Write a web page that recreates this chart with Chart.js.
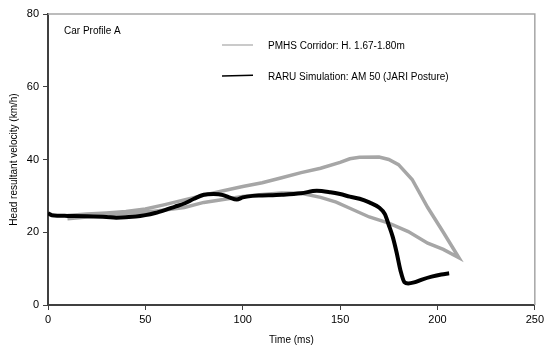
<!DOCTYPE html>
<html>
<head>
<meta charset="utf-8">
<script src="https://cdn.jsdelivr.net/npm/chart.js@4"></script>
<style>
  body { margin: 0; background: #fff; }
</style>
</head>
<body>
<canvas id="chart" width="547" height="351"></canvas>
<script>
// PMHS corridor: upper edge left to right, then lower edge back to the left
const corridorUpperTime = [10, 20, 30, 40, 50, 60, 70, 80, 90, 100, 110, 120, 130, 140, 150, 155, 160, 170, 175, 180, 187, 195, 203, 211];
const corridorUpperSpeed = [24.6, 25.0, 25.3, 25.7, 26.4, 27.6, 28.9, 30.2, 31.4, 32.6, 33.6, 35.0, 36.4, 37.6, 39.2, 40.2, 40.6, 40.7, 40.0, 38.6, 34.5, 26.8, 20.0, 13.0];
const corridorLowerTime = [211, 203, 195, 185, 175, 165, 155, 148, 140, 130, 120, 110, 100, 90, 80, 70, 60, 50, 40, 30, 20, 10];
const corridorLowerSpeed = [13.0, 15.3, 17.0, 20.2, 22.5, 24.2, 26.6, 28.3, 29.6, 30.7, 30.8, 30.4, 29.8, 29.0, 28.2, 26.8, 26.1, 25.5, 25.2, 24.8, 24.2, 23.7];

// RARU simulation
const simTime = [0, 2, 10, 20, 30, 35, 45, 50, 55, 60, 65, 70, 75, 80, 85, 90, 93, 97, 100, 105, 110, 120, 130, 138, 145, 150, 155, 160, 165, 170, 173, 175, 177, 179, 181, 183, 185, 188, 192, 197, 202, 206];
const simSpeed = [25.2, 24.7, 24.5, 24.4, 24.2, 24.0, 24.3, 24.7, 25.3, 26.1, 27.0, 27.9, 29.2, 30.3, 30.5, 30.2, 29.6, 29.0, 29.6, 30.0, 30.1, 30.3, 30.7, 31.4, 31.0, 30.5, 29.8, 29.2, 28.2, 26.8, 25.0, 22.0, 18.8, 14.5, 9.5, 6.3, 5.9, 6.2, 7.0, 7.8, 8.4, 8.7];

const seriesLabels = ['PMHS Corridor: H. 1.67-1.80m', 'RARU Simulation: AM 50 (JARI Posture)'];
const annotationText = 'Car Profile A';

const FONT = 'Liberation Sans, Arial, sans-serif';

const toPoints = (xs, ys) => xs.map((x, i) => ({ x: x, y: ys[i] }));

const corridorPoints = toPoints(corridorUpperTime, corridorUpperSpeed)
  .concat(toPoints(corridorLowerTime, corridorLowerSpeed));

// frame, in-plot legend and label
const extras = {
  id: 'extras',
  afterDatasetsDraw(chart) {
    const { ctx, chartArea } = chart;
    ctx.save();
    ctx.strokeStyle = '#a6a6a6';
    ctx.lineWidth = 1.5;
    ctx.beginPath();
    ctx.moveTo(chartArea.left, chartArea.top);
    ctx.lineTo(chartArea.right, chartArea.top);
    ctx.lineTo(chartArea.right, chartArea.bottom);
    ctx.stroke();

    ctx.font = '10px ' + FONT;
    ctx.fillStyle = '#000';
    ctx.textBaseline = 'middle';
    ctx.fillText(annotationText, 64, 31);

    const rows = [
      { y: 45, width: 1.2 },
      { y: 76, width: 1.6 },
    ];
    chart.data.datasets.forEach((ds, i) => {
      ctx.strokeStyle = ds.borderColor;
      ctx.lineWidth = rows[i].width;
      ctx.beginPath();
      ctx.moveTo(222, rows[i].y);
      ctx.lineTo(253, rows[i].y - (i === 1 ? 0.8 : 0));
      ctx.stroke();
      ctx.fillStyle = '#000';
      ctx.fillText(ds.label, 268, rows[i].y + 1);
    });
    ctx.restore();
  }
};

const axisColor = '#404040';

new Chart(document.getElementById('chart'), {
  type: 'line',
  data: {
    datasets: [
      {
        label: seriesLabels[0],
        data: corridorPoints,
        borderColor: '#a6a6a6',
        borderWidth: 3.5,
        pointRadius: 0,
        tension: 0,
        fill: false,
        order: 1,
      },
      {
        label: seriesLabels[1],
        data: toPoints(simTime, simSpeed),
        borderColor: '#000000',
        borderWidth: 4,
        pointRadius: 0,
        cubicInterpolationMode: 'monotone',
        fill: false,
        order: 0,
      },
    ],
  },
  options: {
    responsive: false,
    animation: false,
    devicePixelRatio: 1,
    layout: { padding: { top: 14, right: 10, left: 0, bottom: 0 } },
    plugins: {
      legend: { display: false },
      tooltip: { enabled: false },
    },
    scales: {
      x: {
        type: 'linear',
        min: 0,
        max: 250,
        ticks: { stepSize: 50, color: '#000', padding: 3, font: { family: FONT, size: 11 }, maxRotation: 0 },
        grid: { drawOnChartArea: false, tickLength: 5, color: axisColor },
        border: { color: axisColor, width: 2 },
        title: { display: true, text: 'Time (ms)', color: '#000', font: { family: FONT, size: 10 }, padding: { top: 0, bottom: 5 } },
        afterFit(scale) { scale.height = 46; },
      },
      y: {
        min: 0,
        max: 80,
        ticks: { stepSize: 20, color: '#000', padding: 4, font: { family: FONT, size: 11 } },
        grid: { drawOnChartArea: false, tickLength: 5, color: axisColor },
        border: { color: axisColor, width: 2 },
        title: { display: true, text: 'Head resultant velocity (km/h)', color: '#000', font: { family: FONT, size: 10 }, padding: { top: 8, bottom: 0 } },
        afterFit(scale) { scale.width = 48; },
      },
    },
  },
  plugins: [extras],
});
</script>
</body>
</html>
